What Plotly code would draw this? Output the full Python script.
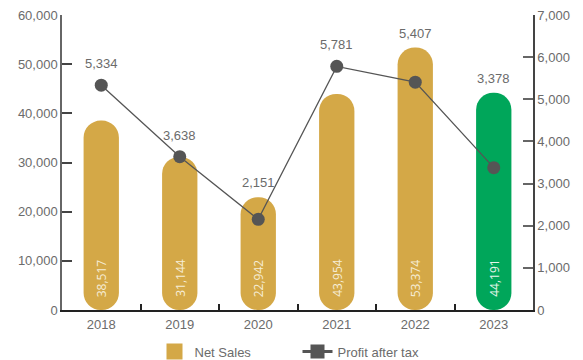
import plotly.graph_objects as go

# Annual figures
years = ["2018", "2019", "2020", "2021", "2022", "2023"]
net_sales = [38517, 31144, 22942, 43954, 53374, 44191]
profit_after_tax = [5334, 3638, 2151, 5781, 5407, 3378]

sales_ticks = [0, 10000, 20000, 30000, 40000, 50000, 60000]
profit_ticks = [0, 1000, 2000, 3000, 4000, 5000, 6000, 7000]

GOLD = "#D4A847"
GREEN = "#00A65A"
GREY = "#555555"
TEXT = "#6b6b6b"
FONT = "Liberation Sans, Arial, sans-serif"

SALES_MAX = 60000
PROFIT_MAX = 7000

bar_colors = [GOLD] * (len(years) - 1) + [GREEN]
bar_text_colors = ["#F6EDD6"] * (len(years) - 1) + ["#E6F6EC"]

fig = go.Figure()

# Pill-shaped sales bars (explicit base so both ends get rounded)
fig.add_trace(go.Bar(
    x=years, y=net_sales, base=[0] * len(years), name="Net Sales",
    marker=dict(color=bar_colors, line=dict(width=0), cornerradius="50%"),
    width=0.45, showlegend=False,
    hovertext=[f"{v:,}" for v in net_sales], hoverinfo="text",
))

fig.add_trace(go.Scatter(
    x=years, y=profit_after_tax, yaxis="y2", name="Profit after tax",
    mode="lines+markers", showlegend=False,
    line=dict(color=GREY, width=1.3),
    marker=dict(color=GREY, size=13, symbol="circle"),
))

# Legend entries
fig.add_trace(go.Scatter(
    x=years, y=[None] * len(years), name="Net Sales", mode="markers",
    marker=dict(color=GOLD, size=16, symbol="square"), hoverinfo="skip",
))
fig.add_trace(go.Scatter(
    x=years, y=[None] * len(years), yaxis="y2", name="Profit after tax",
    mode="lines+markers", line=dict(color=GREY, width=3),
    marker=dict(color=GREY, size=14, symbol="square"), hoverinfo="skip",
))

# Sales values written upward near the foot of each bar
for i, (s, c) in enumerate(zip(net_sales, bar_text_colors)):
    fig.add_annotation(
        x=i, y=0, xref="x", yref="y", yanchor="middle", yshift=32,
        text=f"{s:,}", textangle=-90, showarrow=False,
        font=dict(size=12, color=c, family="Open Sans, sans-serif"),
    )

# Profit labels above whichever is higher: the bar top or the profit marker
for i, (s, p) in enumerate(zip(net_sales, profit_after_tax)):
    bar_top = s * PROFIT_MAX / SALES_MAX
    if p >= bar_top:
        y, shift = p, 12
    else:
        y, shift = bar_top, 5
    fig.add_annotation(
        x=i, y=y, xref="x", yref="y2", yanchor="bottom", yshift=shift,
        text=f"{p:,}", showarrow=False,
        font=dict(size=13, color=TEXT, family=FONT),
    )

fig.update_layout(
    width=583, height=360,
    margin=dict(l=62, r=50, t=15, b=50, autoexpand=False),
    paper_bgcolor="white", plot_bgcolor="white",
    barmode="overlay", bargap=0.55,
    font=dict(family=FONT, size=13, color=TEXT),
    showlegend=True,
    legend=dict(
        orientation="h", x=0.5, xanchor="center", y=-0.09, yanchor="top",
        font=dict(size=13, color=TEXT, family=FONT),
        itemwidth=30, tracegroupgap=0, entrywidth=98,
    ),
    xaxis=dict(
        type="category", range=[-0.5, len(years) - 0.5],
        showgrid=False, zeroline=False,
        showline=True, linecolor="#222222", linewidth=1.5,
        ticks="inside", tickson="boundaries", ticklen=6,
        tickcolor="#222222", tickwidth=1.5, ticklabelstandoff=2,
        tickfont=dict(size=13, color=TEXT),
    ),
    yaxis=dict(
        range=[0, SALES_MAX], tickvals=sales_ticks,
        ticktext=[f"{v:,}" for v in sales_ticks],
        showgrid=False, zeroline=False,
        showline=True, linecolor="#666666", linewidth=1.5,
        ticks="inside", ticklen=10, tickcolor="#444444", tickwidth=1.5,
        tickfont=dict(size=13, color=TEXT),
    ),
    yaxis2=dict(
        range=[0, PROFIT_MAX], tickvals=profit_ticks,
        ticktext=[f"{v:,}" for v in profit_ticks],
        overlaying="y", side="right", showgrid=False, zeroline=False,
        showline=True, linecolor="#444444", linewidth=1.5,
        ticks="inside", ticklen=10, tickcolor="#666666", tickwidth=1.5,
        tickfont=dict(size=13, color=TEXT),
    ),
)

fig.write_html("out.html")
